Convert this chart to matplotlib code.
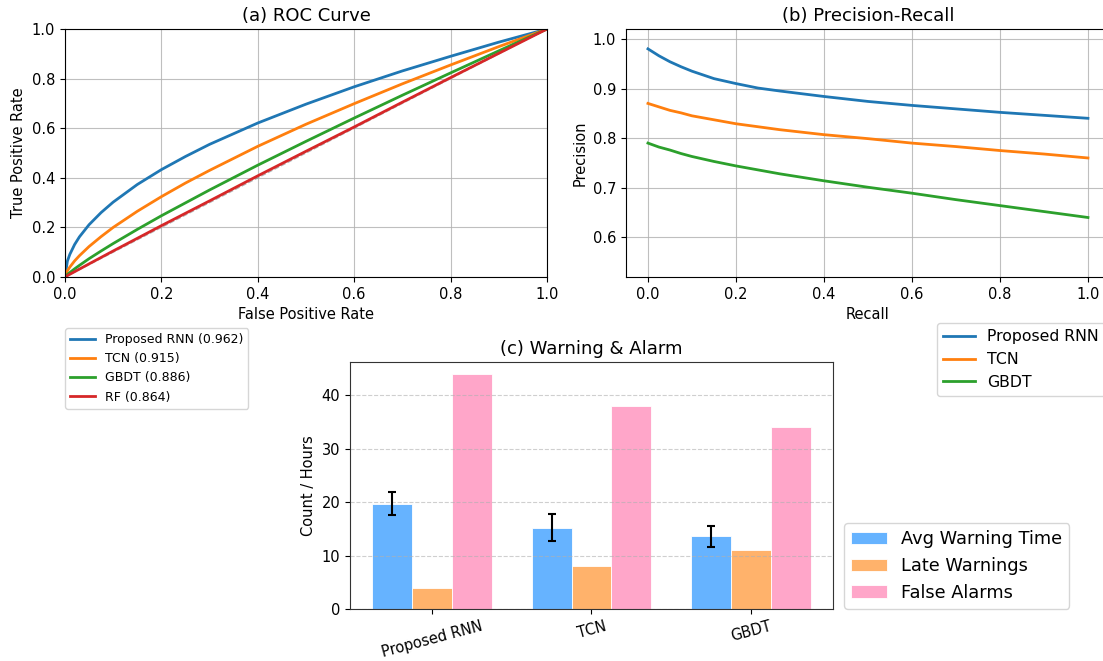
import numpy as np
import matplotlib
matplotlib.use("Agg")
import matplotlib.pyplot as plt

# --- ROC data ---
fpr = [0, 0.005, 0.01, 0.02, 0.03, 0.05, 0.075, 0.1, 0.15, 0.2, 0.25, 0.3,
       0.4, 0.5, 0.6, 0.7, 0.8, 0.9, 1.0]
tpr_rnn = [0, 0.064, 0.091, 0.131, 0.162, 0.211, 0.260, 0.302, 0.373, 0.433, 0.486,
           0.535, 0.621, 0.697, 0.767, 0.831, 0.890, 0.947, 1.0]
tpr_tcn = [0, 0.025, 0.040, 0.065, 0.086, 0.123, 0.163, 0.200, 0.265, 0.324, 0.379,
           0.430, 0.527, 0.616, 0.699, 0.779, 0.855, 0.929, 1.0]
tpr_gbdt = [0, 0.010, 0.018, 0.033, 0.047, 0.074, 0.105, 0.135, 0.192, 0.247, 0.299,
            0.351, 0.451, 0.547, 0.641, 0.733, 0.823, 0.912, 1.0]
tpr_rf = [0, 0.0056, 0.011, 0.0215, 0.032, 0.053, 0.079, 0.105, 0.156, 0.207, 0.257,
          0.307, 0.408, 0.507, 0.605, 0.705, 0.804, 0.902, 1.0]
roc_labels = ["Proposed RNN (0.962)", "TCN (0.915)", "GBDT (0.886)", "RF (0.864)"]

# --- Precision-Recall data ---
recall = [0, 0.025, 0.05, 0.075, 0.1, 0.15, 0.2, 0.25, 0.3, 0.4, 0.5, 0.6, 0.7,
          0.8, 0.9, 1.0]
prec_rnn = [0.980, 0.966, 0.954, 0.944, 0.935, 0.920, 0.910, 0.901, 0.895, 0.884,
            0.874, 0.866, 0.859, 0.852, 0.846, 0.840]
prec_tcn = [0.870, 0.863, 0.856, 0.851, 0.845, 0.837, 0.829, 0.823, 0.817, 0.807,
            0.799, 0.790, 0.783, 0.775, 0.768, 0.760]
prec_gbdt = [0.790, 0.782, 0.776, 0.769, 0.763, 0.753, 0.744, 0.736, 0.728, 0.714,
             0.701, 0.689, 0.676, 0.664, 0.652, 0.640]
pr_labels = ["Proposed RNN", "TCN", "GBDT"]

# --- Warning & alarm data ---
models = ["Proposed RNN", "TCN", "GBDT"]
avg_warning = [19.7, 15.2, 13.6]
avg_warning_err = [2.15, 2.5, 2.0]
late_warnings = [4, 8, 11]
false_alarms = [44, 38, 34]

fig = plt.figure(figsize=(11.03, 6.61), dpi=100)
ax1 = fig.add_axes([0.0589, 0.5809, 0.4370, 0.3752])
ax2 = fig.add_axes([0.5675, 0.5809, 0.4388, 0.3752])
ax3 = fig.add_axes([0.3173, 0.0787, 0.4379, 0.3737])

fs_tick = 10.5
fs_label = 10.5
fs_title = 13

# (a) ROC
ax1.plot([0, 1], [0, 1], color="gray", ls="--", lw=1, alpha=0.6)
for y, lab, c in zip([tpr_rnn, tpr_tcn, tpr_gbdt, tpr_rf], roc_labels,
                     ["tab:blue", "tab:orange", "tab:green", "tab:red"]):
    ax1.plot(fpr, y, color=c, lw=2, label=lab)
ax1.set_xlim(0, 1)
ax1.set_ylim(0, 1)
ax1.set_xlabel("False Positive Rate", fontsize=fs_label)
ax1.set_ylabel("True Positive Rate", fontsize=fs_label)
ax1.set_title("(a) ROC Curve", fontsize=fs_title)
ax1.grid(True, alpha=0.8)
ax1.tick_params(labelsize=fs_tick)
ax1.legend(loc="upper left", bbox_to_anchor=(65 / 1103, 1 - 328 / 661),
           bbox_transform=fig.transFigure, borderaxespad=0, fontsize=9)

# (b) Precision-Recall
for y, lab, c in zip([prec_rnn, prec_tcn, prec_gbdt], pr_labels,
                     ["tab:blue", "tab:orange", "tab:green"]):
    ax2.plot(recall, y, color=c, lw=2, label=lab)
ax2.set_xlim(-0.05, 1.05)
ax2.set_ylim(0.52, 1.02)
ax2.set_xlabel("Recall", fontsize=fs_label)
ax2.set_ylabel("Precision", fontsize=fs_label)
ax2.set_title("(b) Precision-Recall", fontsize=fs_title)
ax2.grid(True, alpha=0.8)
ax2.tick_params(labelsize=fs_tick)
ax2.legend(loc="upper left", bbox_to_anchor=(937 / 1103, 1 - 323 / 661),
           bbox_transform=fig.transFigure, borderaxespad=0, fontsize=11.3)

# (c) Warning & Alarm
x = np.arange(len(models))
w = 0.25
ax3.bar(x - w, avg_warning, w, yerr=avg_warning_err, capsize=3,
        error_kw=dict(elinewidth=1.5, capthick=1.5, ecolor="black"),
        color="#66b3ff", edgecolor="white", linewidth=0.6, label="Avg Warning Time")
ax3.bar(x, late_warnings, w, color="#ffb26b", edgecolor="white", linewidth=0.6,
        label="Late Warnings")
ax3.bar(x + w, false_alarms, w, color="#ffa6c9", edgecolor="white", linewidth=0.6,
        label="False Alarms")
ax3.set_xticks(x)
ax3.set_xticklabels(models, rotation=15)
ax3.set_ylabel("Count / Hours", fontsize=fs_label)
ax3.set_title("(c) Warning & Alarm", fontsize=fs_title)
ax3.grid(True, axis="y", ls="--", alpha=0.6)
ax3.tick_params(labelsize=fs_tick)
for s in ax3.spines.values():
    s.set_color("#333333")
ax3.legend(loc="lower left", bbox_to_anchor=(1 + 11 / 483, 0), borderaxespad=0,
           fontsize=12.8)

fig.savefig("out.png", dpi=100)
